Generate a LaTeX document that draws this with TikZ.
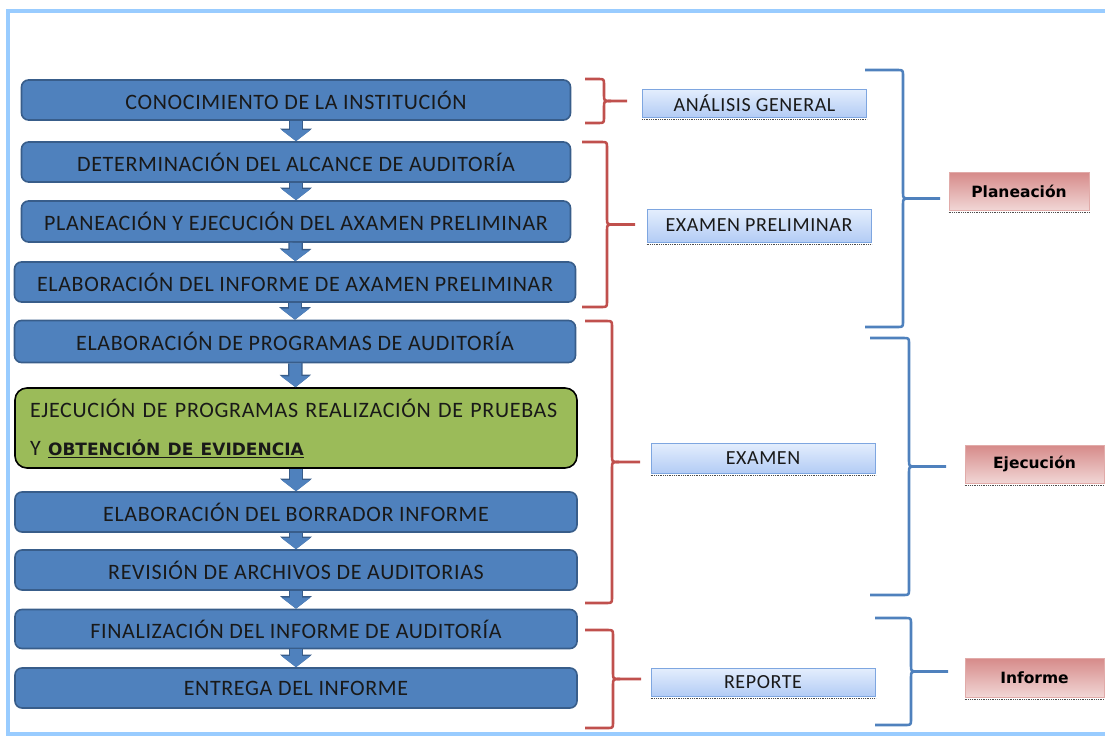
\documentclass[tikz,border=0pt]{standalone}
\usepackage{fontspec}
\setmainfont{Carlito}
\newfontfamily\espaciada{Carlito}[LetterSpace=3]
\newfontfamily\gruesa{DejaVu Sans}
\usetikzlibrary{arrows.meta}
\definecolor{azul}{HTML}{4F81BD}
\definecolor{azulborde}{HTML}{385D8A}
\definecolor{verde}{HTML}{9BBB59}
\definecolor{celeste}{HTML}{99CCFF}
\definecolor{rojo}{HTML}{C0504D}
\definecolor{rosa}{HTML}{D99694}
\definecolor{marcoazul}{HTML}{7EA6E0}
\definecolor{claro}{HTML}{E4EEFD}
\definecolor{medio}{HTML}{B3CCF5}
\definecolor{rosaosc}{HTML}{D68A89}
\definecolor{rosamed}{HTML}{E6B4B3}
\definecolor{rosacla}{HTML}{F1D6D5}
% llave: color, x inicio, x vertical, x punta, y arriba, y abajo
\newcommand{\llave}[6]{%
  \draw[#1, line width=2.6pt, line join=round]
    (#2,#5) -- ({#3-6},#5) .. controls (#3,#5) .. (#3,{#5+6})
    -- (#3,{(#5+#6)/2-6}) .. controls (#3,{(#5+#6)/2}) .. ({#3+7},{(#5+#6)/2})
    -- (#4,{(#5+#6)/2});
  \draw[#1, line width=2.6pt, line join=round]
    ({#3+7},{(#5+#6)/2}) .. controls (#3,{(#5+#6)/2}) .. (#3,{(#5+#6)/2+6})
    -- (#3,{#6-6}) .. controls (#3,#6) .. ({#3-6},#6) -- (#2,#6);
}
\begin{document}
\begin{tikzpicture}[x=1pt,y=-1pt,
  caja/.style={draw=azulborde, fill=azul, line width=1.6pt, rounded corners=7pt,
    minimum height=40pt, text=black!90, font=\espaciada\fontsize{22}{25}\selectfont},
  flecha/.style={draw=azul, line width=12pt, -{Triangle[width=28pt,length=11pt]},
    preaction={draw=azulborde, line width=14.5pt, -{Triangle[width=31pt,length=12.5pt]}}},
  etiqueta/.style={draw=marcoazul, line width=1pt, top color=claro, bottom color=medio,
    minimum width=224pt, text=black!90, font=\espaciada\fontsize{20}{22}\selectfont,
    append after command={([yshift=-2pt]\tikzlastnode.south west) edge[densely dotted, black!70, line width=0.8pt] ([yshift=-2pt]\tikzlastnode.south east)}},
  fase/.style={draw=rosa!80, line width=1pt, top color=rosaosc, middle color=rosamed, bottom color=rosacla,
    minimum width=140pt, minimum height=38pt, font=\gruesa\bfseries\fontsize{15.5}{17}\selectfont,
    append after command={([yshift=-2pt]\tikzlastnode.south west) edge[densely dotted, black!70, line width=0.8pt] ([yshift=-2pt]\tikzlastnode.south east)}}]
\useasboundingbox (0,0) rectangle (1105,736);
% marco
\draw[celeste, line width=4pt] (1110,11) -- (8,11) -- (8,734) -- (1110,734);

% pasos
\node[caja, minimum width=549pt] (b1) at (296,100) {CONOCIMIENTO DE LA INSTITUCIÓN};
\node[caja, minimum width=549pt] (b2) at (296,162) {DETERMINACIÓN DEL ALCANCE DE AUDITORÍA};
\node[caja, minimum width=549pt, minimum height=41pt] (b3) at (296,221.5) {PLANEACIÓN Y EJECUCIÓN DEL AXAMEN PRELIMINAR};
\node[caja, minimum width=561pt] (b4) at (295,282) {ELABORACIÓN DEL INFORME DE AXAMEN PRELIMINAR};
\node[caja, minimum width=561pt, minimum height=42pt] (b5) at (295,341.5) {ELABORACIÓN DE PROGRAMAS DE AUDITORÍA};
\node[caja, draw=black, fill=verde, minimum width=562pt, minimum height=80pt, rounded corners=12pt,
  text width=532pt, align=left, font=\espaciada\fontsize{22}{38}\selectfont] (g6) at (296,428)
  {EJECUCIÓN DE PROGRAMAS REALIZACIÓN DE PRUEBAS\\
   Y \underline{\gruesa\bfseries\fontsize{17}{38}\selectfont OBTENCIÓN DE EVIDENCIA}};
\node[caja, minimum width=562pt] (b7) at (296,512) {ELABORACIÓN DEL BORRADOR INFORME};
\node[caja, minimum width=562pt] (b8) at (296,570) {REVISIÓN DE ARCHIVOS DE AUDITORIAS};
\node[caja, minimum width=562pt, minimum height=39pt] (b9) at (296,629) {FINALIZACIÓN DEL INFORME DE AUDITORÍA};
\node[caja, minimum width=562pt] (b10) at (296,688) {ENTREGA DEL INFORME};

\draw[flecha] (b1) -- (b2);
\draw[flecha] (b2) -- (b3);
\draw[flecha] (b3) -- (b4);
\draw[flecha] (b4) -- (b5);
\draw[flecha] (b5) -- (g6);
\draw[flecha] (g6) -- (b7);
\draw[flecha] (b7) -- (b8);
\draw[flecha] (b8) -- (b9);
\draw[flecha] (b9) -- (b10);

% etapas
\node[etiqueta, minimum height=28pt] (e1) at (754.5,103) {ANÁLISIS GENERAL};
\node[etiqueta, minimum height=33pt] (e2) at (759,225.5) {EXAMEN PRELIMINAR};
\node[etiqueta, minimum height=30pt] (e3) at (763,458) {EXAMEN};
\node[etiqueta, minimum height=28pt] (e4) at (763,682) {REPORTE};

\llave{rojo}{585}{604}{627}{79}{123}
\llave{rojo}{582}{607}{635}{142}{307}
\llave{rojo}{585}{612}{640}{321}{603}
\llave{rojo}{585}{613}{641}{630}{728}

% fases
\node[fase] (f1) at (1019,191) {Planeación};
\node[fase, minimum width=139pt] (f2) at (1034.5,464) {Ejecución};
\node[fase, minimum width=139pt, minimum height=39pt] (f3) at (1034.5,677.5) {Informe};

\llave{azul}{865}{903}{940}{70}{327}
\llave{azul}{870}{909}{946}{338}{595}
\llave{azul}{875}{911}{948}{618}{725}
\end{tikzpicture}
\end{document}
